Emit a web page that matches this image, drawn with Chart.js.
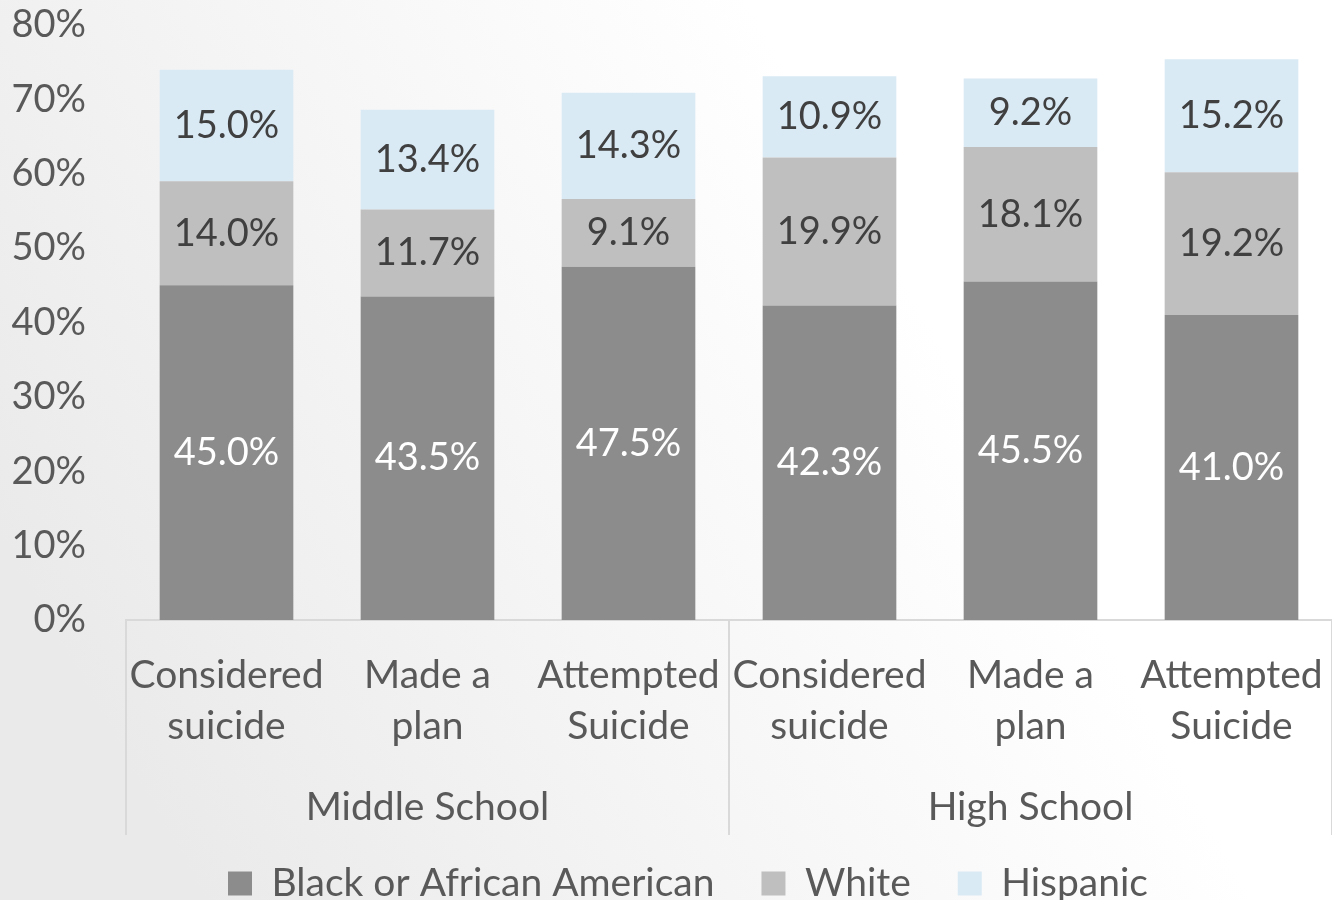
<!DOCTYPE html>
<html><head><meta charset="utf-8">
<script src="https://cdn.jsdelivr.net/npm/chart.js@4/dist/chart.umd.min.js"></script>
<style>html,body{margin:0;padding:0;overflow:hidden;background:#fff}#wrap{width:1332px;height:900px;position:relative}</style>
</head><body><div id="wrap"><canvas id="c"></canvas></div>
<script>
const categories = [["Considered","suicide"],["Made a","plan"],["Attempted","Suicide"],["Considered","suicide"],["Made a","plan"],["Attempted","Suicide"]];
const groups = ["Middle School","High School"];
const groupSizes = [3,3];
const seriesNames = ["Black or African American","White","Hispanic"];
const blackValues = [45.0,43.5,47.5,42.3,45.5,41.0];
const whiteValues = [14.0,11.7,9.1,19.9,18.1,19.2];
const hispanicValues = [15.0,13.4,14.3,10.9,9.2,15.2];
const yMin = 0, yMax = 80, yStep = 10;

const FONT = 'Lato, Carlito, "Open Sans", sans-serif';
const TXT = '#595959';

const bgPlugin = {
  id:'bg',
  beforeDraw(chart){
    const {ctx,width,height} = chart;
    ctx.save();
    const g = ctx.createLinearGradient(0,height*0.6,width*0.6,height*0.1);
    g.addColorStop(0,'#eaeaea');
    g.addColorStop(0.55,'#f6f6f6');
    g.addColorStop(1,'#ffffff');
    ctx.fillStyle = g;
    ctx.fillRect(0,0,width,height);
    ctx.restore();
  }
};

const legendShift = {
  id:'legendShift',
  afterLayout(chart){
    if (chart.legend) { chart.legend.left += 40; }
  }
};

const labelPlugin = {
  id:'valueLabels',
  afterDatasetsDraw(chart){
    const ctx = chart.ctx;
    ctx.save();
    ctx.font = '38px ' + FONT;
    ctx.textAlign = 'center';
    ctx.textBaseline = 'middle';
    chart.data.datasets.forEach((ds,di)=>{
      const meta = chart.getDatasetMeta(di);
      meta.data.forEach((bar,i)=>{
        const p = bar.getProps(['x','y','base'],true);
        ctx.fillStyle = di === 0 ? '#ffffff' : '#404040';
        ctx.fillText(ds.data[i].toFixed(1)+'%', p.x, (p.y+p.base)/2);
      });
    });
    ctx.restore();
  }
};

const groupPlugin = {
  id:'groupAxis',
  afterDraw(chart){
    const ctx = chart.ctx;
    const xs = chart.scales.x;
    const top = chart.chartArea.bottom;
    const bottom = top + 215;
    ctx.save();
    ctx.strokeStyle = '#d9d9d9';
    ctx.lineWidth = 2;
    let start = 0;
    const bounds = [0];
    groupSizes.forEach(n=>{ start += n; bounds.push(start); });
    bounds.forEach(b=>{
      const x = Math.round(xs.getPixelForValue(b-0.5));
      ctx.beginPath(); ctx.moveTo(x,top); ctx.lineTo(x,bottom); ctx.stroke();
    });
    ctx.font = '39px ' + FONT;
    ctx.fillStyle = TXT;
    ctx.textAlign = 'center';
    ctx.textBaseline = 'middle';
    let s = 0;
    groups.forEach((g,gi)=>{
      const n = groupSizes[gi];
      const x = (xs.getPixelForValue(s) + xs.getPixelForValue(s+n-1))/2;
      ctx.fillText(g, x, top + 187);
      s += n;
    });
    ctx.restore();
  }
};

new Chart(document.getElementById('c'), {
  type:'bar',
  data:{
    labels: categories,
    datasets:[
      {label:seriesNames[0], data:blackValues, backgroundColor:'#8c8c8c', borderWidth:0},
      {label:seriesNames[1], data:whiteValues, backgroundColor:'#bfbfbf', borderWidth:0},
      {label:seriesNames[2], data:hispanicValues, backgroundColor:'#daeaf5', borderWidth:0}
    ]
  },
  options:{
    responsive:true,
    maintainAspectRatio:false,
    animation:false,
    datasets:{bar:{barPercentage:0.665, categoryPercentage:1}},
    layout:{padding:{top:25,left:0,right:-4,bottom:0}},
    scales:{
      x:{
        stacked:true,
        offset:true,
        grid:{display:false, drawTicks:false},
        border:{display:true, color:'#d9d9d9', width:2},
        ticks:{font:{family:FONT,size:39,lineHeight:1.33}, color:TXT, padding:29, maxRotation:0, autoSkip:false},
        afterFit(scale){ scale.height = 197; scale.paddingLeft = 0; scale.paddingRight = 0; }
      },
      y:{
        stacked:true,
        min:yMin, max:yMax,
        grid:{display:false, drawTicks:false},
        border:{display:false},
        ticks:{stepSize:yStep, font:{family:FONT,size:38}, color:TXT, padding:40, callback:v=>v+'%'},
        afterFit(scale){ scale.width = 126; scale.paddingTop = 0; scale.paddingBottom = 0; }
      }
    },
    plugins:{
      legend:{
        position:'bottom',
        maxHeight:83,
        labels:{boxWidth:24, boxHeight:24, padding:47, font:{family:FONT,size:39}, color:TXT}
      },
      tooltip:{enabled:false}
    }
  },
  plugins:[bgPlugin,legendShift,labelPlugin,groupPlugin]
});
</script>
</body></html>
